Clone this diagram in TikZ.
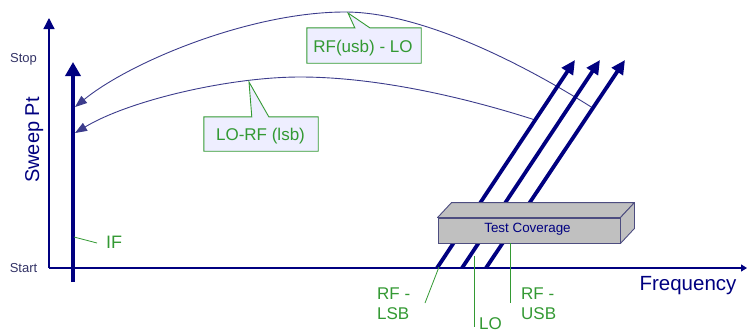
\documentclass[tikz,border=0pt]{standalone}
\usepackage{fontspec}
\setmainfont{Liberation Sans}
\usetikzlibrary{arrows.meta,calc}
\definecolor{navy}{HTML}{000080}
\definecolor{curvec}{HTML}{3C3C8C}
\definecolor{lblgreen}{HTML}{339933}
\definecolor{callfill}{HTML}{EEEEFF}
\definecolor{boxfill}{HTML}{C0C0C0}
\definecolor{boxedge}{HTML}{4D4D80}
\definecolor{ticklbl}{HTML}{333366}
\begin{document}
\begin{tikzpicture}[x=1pt,y=-1pt,
  axisline/.style={draw=navy,line width=1.3pt},
  sigarrow/.style={draw=navy,line width=3.8pt,-{Triangle[length=14pt,width=15pt]}},
  curvearrow/.style={draw=curvec,line width=0.9pt,-{Triangle[length=12pt,width=9pt]}},
  greenlbl/.style={text=lblgreen,font=\fontsize{17}{20}\selectfont,inner sep=0pt},
  leader/.style={draw=lblgreen,line width=0.8pt},
  callbox/.style={draw=lblgreen,fill=callfill,line width=0.9pt},
  ticktext/.style={text=ticklbl,font=\fontsize{13}{15}\selectfont,inner sep=0pt},
  axistitle/.style={text=navy,font=\fontsize{20.5}{23}\selectfont,inner sep=0pt}]
\useasboundingbox (0,0) rectangle (747,333);

% axes
\coordinate (o) at (49,268);
\coordinate (ytop) at (49,18);
\coordinate (xend) at (747,268);
\draw[axisline,-{Triangle[length=11pt,width=11pt]}] (o) -- (ytop);
\draw[axisline,-{Triangle[length=6pt,width=7pt]}] (o) -- (xend);
\node[ticktext,anchor=base] (stop) at (23.5,62) {Stop};
\node[ticktext,anchor=base] (start) at (23.5,272) {Start};
\node[axistitle,rotate=90,anchor=base,font=\fontsize{20}{23}\selectfont] (sweep) at (39,140) {Sweep Pt};
\node[axistitle,anchor=base] (freq) at (688,290) {Frequency};

% signal arrows (coordinates)
\coordinate (ifb) at (73,282);
\coordinate (ift) at (73,62);
\coordinate (a1b) at (437,268); \coordinate (a1t) at (575,60);
\coordinate (a2b) at (462,268); \coordinate (a2t) at (600,60);
\coordinate (a3b) at (486,268); \coordinate (a3t) at (625,60);

% curves
\coordinate (upk) at (345,12);
\coordinate (lpk) at (300,77);
\coordinate (uend) at (75,107);
\coordinate (lend) at (75,133);
\coordinate (ustart) at ($(a3b)!0.769!(a3t)$);
\coordinate (lstart) at ($(a1b)!0.7115!(a1t)$);
\draw[curvearrow] (ustart) .. controls (520,62) and (420,12) .. (upk)
  .. controls (250,12) and (130,62) .. (uend);
\draw[curvearrow] (lstart) .. controls (470,99) and (380,77) .. (lpk)
  .. controls (230,77) and (130,100) .. (lend);

% signal arrows
\draw[sigarrow] (ifb) -- (ift);
\draw[sigarrow,-{Triangle[length=14pt,width=13pt]}] (a1b) -- (a1t);
\draw[sigarrow,-{Triangle[length=14pt,width=13pt]}] (a2b) -- (a2t);
\draw[sigarrow,-{Triangle[length=14pt,width=13pt]}] (a3b) -- (a3t);

% test coverage box
\node[draw=boxedge,fill=boxfill,line width=0.9pt,minimum width=182pt,minimum height=25pt,
  inner sep=0pt] (tc) at (529,230.5) {};
\filldraw[draw=boxedge,fill=boxfill,line width=0.9pt,line join=round]
  (tc.north west) -- ++(14,-15) -- ($(tc.north east)+(14,-15)$) -- (tc.north east) -- cycle;
\filldraw[draw=boxedge,fill=boxfill,line width=0.9pt,line join=round]
  (tc.north east) -- ++(14,-15) -- ($(tc.south east)+(14,-15)$) -- (tc.south east) -- cycle;
\node[text=navy,font=\fontsize{13.4}{15}\selectfont,inner sep=0pt,anchor=base] (tctext) at (527.5,232.5) {Test Coverage};

% callouts
\node[minimum width=114pt,minimum height=35pt,inner sep=0pt] (usb) at (364,45.5) {};
\filldraw[callbox,line join=miter]
  (usb.north west) -- ($(usb.north west)+(48,0)$) -- ($(upk)+(3,1)$) -- ($(usb.north west)+(63,0)$)
  -- (usb.north east) -- (usb.south east) -- (usb.south west) -- cycle;
\node[greenlbl,anchor=base] (usbt) at (363,52) {RF(usb) - LO};

\node[minimum width=114pt,minimum height=34pt,inner sep=0pt] (lsb) at (261,134) {};
\coordinate (lptr) at (249,82);
\filldraw[callbox,line join=miter]
  (lsb.north west) -- ($(lsb.north west)+(48,0)$) -- (lptr) -- ($(lsb.north west)+(65,0)$)
  -- (lsb.north east) -- (lsb.south east) -- (lsb.south west) -- cycle;
\node[greenlbl,anchor=base] (lsbt) at (260.5,140) {LO-RF (lsb)};

% labels with leaders
\node[greenlbl,anchor=base west,font=\fontsize{18}{20}\selectfont] (iflbl) at (106,248) {IF};
\coordinate (ifpt) at (74,237);
\coordinate (ifend) at (97,243);
\draw[leader] (ifpt) -- (ifend);

\node[greenlbl,align=left,anchor=base west] (rflsb) at (377,319) {RF -\\LSB};
\coordinate (lsbpt) at (439,267);
\coordinate (lsbend) at (425,303);
\draw[leader] (lsbpt) -- (lsbend);

\node[greenlbl,anchor=base west] (lolbl) at (479,329) {LO};
\coordinate (lotop) at (474,256);
\coordinate (lobot) at (474,327);
\draw[leader] (lotop) -- (lobot);

\node[greenlbl,align=left,anchor=base west] (rfusb) at (521,319) {RF -\\USB};
\coordinate (usbbot) at (510,303);
\draw[leader] (tc.south -| usbbot) -- (usbbot);
\end{tikzpicture}
\end{document}
